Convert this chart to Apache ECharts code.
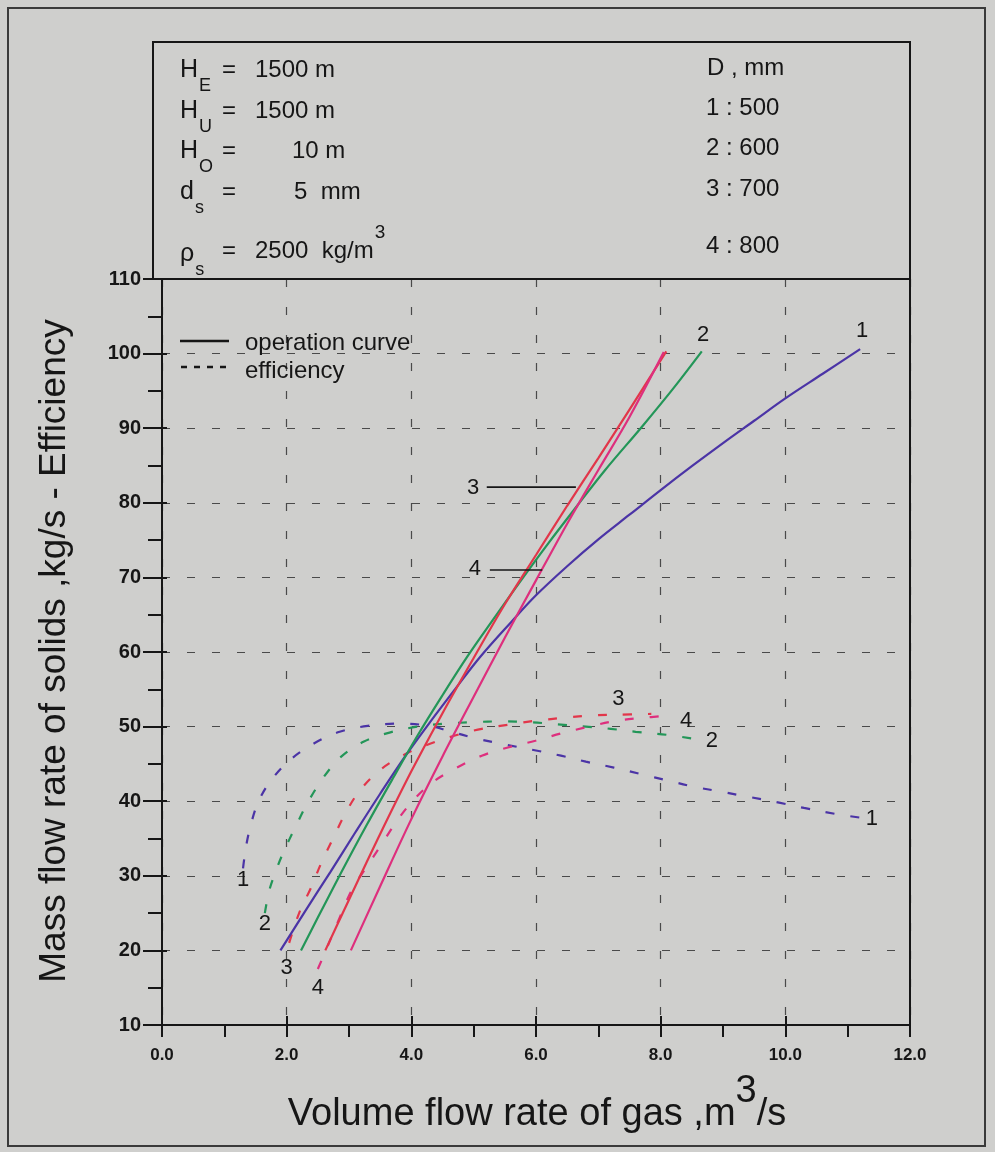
<!DOCTYPE html>
<html>
<head>
<meta charset="utf-8">
<script src="https://cdn.jsdelivr.net/npm/echarts/dist/echarts.min.js"></script>
<style>
html,body{margin:0;padding:0;background:#cfcfcd;}
#chart{width:995px;height:1152px;}
</style>
</head>
<body>
<div id="chart"></div>
<script>
// ---------------- data ----------------
const xTickLabels = [0, 2, 4, 6, 8, 10, 12];
const yTickLabels = [10, 20, 30, 40, 50, 60, 70, 80, 90, 100, 110];

const diameters = ['1 : 500', '2 : 600', '3 : 700', '4 : 800'];
const curveNames = ['1', '2', '3', '4'];

// operation curves (solid): [gas flow m3/s, solids kg/s]
const op1 = [[1.9,20],[2.3,25.3],[2.7,30.5],[3.1,35.8],[3.5,41.0],[3.9,46.0],[4.3,50.6],[4.7,55.0],[5.1,59.3],[5.6,64.0],[6.0,67.6],[6.5,71.5],[7.0,75.1],[7.5,78.4],[8.0,81.7],[8.5,84.9],[9.0,88.0],[9.5,91.0],[10.0,94.0],[10.6,97.3],[11.2,100.6]];
const op2 = [[2.23,20],[2.5,24.4],[2.86,30.2],[3.29,36.9],[3.7,43.0],[4.1,48.8],[4.5,54.2],[4.9,59.4],[5.3,64.2],[5.76,69.6],[6.2,74.6],[6.67,79.7],[7.1,84.3],[7.7,90.2],[8.2,95.3],[8.66,100.3]];
const op3 = [[2.62,20],[3.0,26.8],[3.5,35.6],[4.0,44.0],[4.5,51.8],[5.0,59.2],[5.5,66.4],[6.0,73.0],[6.5,79.6],[7.0,86.0],[7.5,92.5],[8.09,100.3]];
const op4 = [[3.03,20],[3.5,28.6],[4.0,37.6],[4.5,46.0],[5.0,54.0],[5.5,61.9],[6.0,69.6],[6.5,77.2],[7.0,84.4],[7.5,91.5],[8.05,100.2]];

// efficiency curves (dashed)
const eff1 = [[1.3,31],[1.35,34],[1.43,37],[1.55,40],[1.75,42.8],[2.05,45.5],[2.45,47.8],[2.85,49.3],[3.3,50.1],[3.8,50.4],[4.3,50.1],[4.6,49.4],[5.05,48.4],[5.5,47.6],[6.0,46.8],[6.4,46.1],[6.8,45.3],[7.25,44.5],[7.7,43.6],[8.1,42.8],[8.5,42.0],[8.95,41.3],[9.4,40.6],[9.9,39.8],[10.3,39.1],[10.8,38.3],[11.2,37.8]];
const eff2 = [[1.65,25],[1.72,28],[1.82,30.5],[1.95,33.2],[2.15,36.7],[2.35,40],[2.6,43.3],[2.88,46],[3.24,48],[3.65,49.2],[4.1,50],[4.55,50.4],[5.0,50.6],[5.45,50.7],[5.9,50.6],[6.35,50.3],[6.8,50.0],[7.2,49.7],[7.6,49.3],[8.1,48.9],[8.5,48.4]];
const eff3 = [[2.04,21],[2.2,25],[2.39,28.4],[2.56,31.8],[2.75,35.1],[2.95,38.5],[3.18,41.5],[3.5,44.2],[3.9,46.3],[4.3,47.7],[4.7,48.8],[5.13,49.7],[5.59,50.3],[6.01,50.8],[6.47,51.2],[6.9,51.5],[7.3,51.6],[7.85,51.7]];
const eff4 = [[2.5,17.5],[2.68,21],[2.85,24.4],[3.05,28.2],[3.26,30.9],[3.53,34.3],[3.78,37.5],[4.05,40.3],[4.35,42.6],[4.73,44.5],[5.13,46.1],[5.55,47.2],[5.99,48.1],[6.41,49.1],[6.85,50.0],[7.3,50.8],[7.75,51.2],[8.0,51.4]];

// curve number labels anchored in data space [x, y, text]
const curveLabels = [[11.23,103.1,'1'],[8.68,102.5,'2'],[4.99,82.0,'3'],[5.02,71.1,'4'],
  [1.30,29.5,'1'],[1.65,23.5,'2'],[2.0,17.7,'3'],[2.5,15.0,'4'],
  [7.32,53.7,'3'],[8.41,50.8,'4'],[8.82,48.1,'2'],[11.39,37.6,'1']];
const leader3 = [[5.21,82.1],[6.64,82.1]];
const leader4 = [[5.26,71.0],[6.10,71.0]];

// header parameters
const params = [['H','E','=','1500 m'],['H','U','=','1500 m'],['H','O','=','10 m'],['d','s','=','5  mm'],['\u03C1','s','=','2500  kg/m']];
const densityExp = '3';
const diamTitle = 'D , mm';
const legendTexts = ['operation curve', 'efficiency'];
const xTitle = ['Volume flow rate of gas ,m', '3', '/s'];
const yTitle = 'Mass flow rate of solids ,kg/s - Efficiency';

// ---------------- style / layout ----------------
const FONT = '"Liberation Sans", Arial, Helvetica, sans-serif';
const INK = '#161616';
const colors = ['#4B34A6', '#239658', '#E2364A', '#DE2F7D'];
const G = {left: 162, top: 279, width: 748, height: 746};

const mctx = document.createElement('canvas').getContext('2d');
function tw(str, size, weight) {
  mctx.font = (weight || 'normal') + ' ' + size + 'px ' + FONT;
  return mctx.measureText(str).width;
}
function txt(x, y, s, size, opt) {
  opt = opt || {};
  return {type: 'text', x: x, y: y, z: 50, rotation: opt.rotation || 0,
    style: {text: s, fill: INK, fontSize: size, fontFamily: FONT, fontWeight: opt.weight || 'normal',
      textAlign: opt.align || 'left', textVerticalAlign: 'middle', align: opt.align || 'left', verticalAlign: 'middle'}};
}

const graphics = [];
// outer frame
graphics.push({type: 'rect', z: 40, shape: {x: 8, y: 8, width: 977, height: 1138}, style: {fill: 'none', stroke: '#3a3a3a', lineWidth: 2}});
// header box
graphics.push({type: 'rect', z: 40, shape: {x: 153, y: 42, width: G.left + G.width - 153, height: G.top - 42}, style: {fill: 'none', stroke: INK, lineWidth: 2}});
// right border of plot
graphics.push({type: 'line', z: 40, shape: {x1: G.left + G.width, y1: G.top, x2: G.left + G.width, y2: G.top + G.height}, style: {stroke: INK, lineWidth: 2}});

// header left column
const rowY = [70, 111, 151, 192, 254];
const valX = [255, 255, 292, 294, 255];
params.forEach((p, i) => {
  const y = rowY[i];
  graphics.push(txt(180, y, p[0], 25));
  graphics.push(txt(181 + tw(p[0], 25), y + 16, p[1], 18));
  graphics.push(txt(222, y - (i === 4 ? 3 : 0), p[2], 24));
  graphics.push(txt(valX[i], y - (i === 4 ? 3 : 0), p[3], 24));
  if (i === 4) graphics.push(txt(valX[i] + tw(p[3], 24) + 1, y - 21, densityExp, 19));
});
// header right column
graphics.push(txt(707, 68, diamTitle, 24));
const diamY = [108, 148, 189, 246];
diameters.forEach((d, i) => graphics.push(txt(706, diamY[i], d, 24)));

// legend
graphics.push({type: 'line', z: 50, shape: {x1: 180, y1: 341, x2: 229, y2: 341}, style: {stroke: INK, lineWidth: 2.5}});
graphics.push({type: 'line', z: 50, shape: {x1: 181, y1: 367, x2: 229, y2: 367}, style: {stroke: INK, lineWidth: 2.5, lineDash: [6, 7]}});
graphics.push(txt(245, 343, legendTexts[0], 24));
graphics.push(txt(245, 371, legendTexts[1], 24));

// axis titles
const xs = 38;
const w0 = tw(xTitle[0], xs), w1 = tw(xTitle[1], xs), w2 = tw(xTitle[2], xs);
const xStart = 537 - (w0 + w1 + w2) / 2;
graphics.push(txt(xStart, 1115, xTitle[0], xs));
graphics.push(txt(xStart + w0, 1092, xTitle[1], xs));
graphics.push(txt(xStart + w0 + w1, 1115, xTitle[2], xs));
graphics.push(txt(55, 651, yTitle, 37, {rotation: Math.PI / 2, align: 'center'}));

// ---------------- series ----------------
const opData = [op1, op2, op3, op4];
const effData = [eff1, eff2, eff3, eff4];
const series = [];
opData.forEach((d, i) => series.push({
  name: 'op ' + curveNames[i], type: 'line', data: d, smooth: 0.35, showSymbol: false, silent: true,
  lineStyle: {color: colors[i], width: 2.2}, z: 5
}));
effData.forEach((d, i) => series.push({
  name: 'eff ' + curveNames[i], type: 'line', data: d, smooth: 0.35, showSymbol: false, silent: true,
  lineStyle: {color: colors[i], width: 2.2, type: [9, 16]}, z: 4
}));
[leader3, leader4].forEach(d => series.push({
  type: 'line', data: d, showSymbol: false, silent: true, lineStyle: {color: INK, width: 1.6}, z: 6
}));

const tickLine = {color: INK, width: 2};
const option = {
  backgroundColor: '#cfcfcd',
  animation: false,
  grid: {left: G.left, top: G.top, width: G.width, height: G.height, containLabel: false},
  xAxis: [
    {type: 'value', min: 0, max: 12, interval: 1, position: 'bottom',
      axisLine: {show: true, lineStyle: {color: INK, width: 2}},
      axisTick: {show: true, length: 12, lineStyle: tickLine},
      splitLine: {show: false},
      axisLabel: {formatter: v => xTickLabels.includes(v) ? v.toFixed(1) : '', fontWeight: 'bold', fontSize: 17, color: INK, fontFamily: FONT, margin: 22, showMinLabel: true, showMaxLabel: true}},
    {type: 'value', min: 0, max: 12, interval: 2, position: 'bottom',
      axisLine: {show: false}, axisLabel: {show: false},
      axisTick: {show: true, inside: true, length: 9, lineStyle: tickLine},
      splitLine: {show: true, lineStyle: {color: '#4a4a4a', width: 1.2, type: [8, 20]}}}
  ],
  yAxis: [
    {type: 'value', min: 10, max: 110, interval: 5, position: 'left',
      axisLine: {show: true, lineStyle: {color: INK, width: 2}},
      axisTick: {show: true, length: 14, lineStyle: tickLine},
      splitLine: {show: false},
      axisLabel: {formatter: v => yTickLabels.includes(v) ? String(v) : '', fontWeight: 'bold', fontSize: 20, color: INK, fontFamily: FONT, margin: 21}},
    {type: 'value', min: 10, max: 110, interval: 10, position: 'left',
      axisLine: {show: false}, axisLabel: {show: false},
      axisTick: {show: true, length: 19, lineStyle: tickLine},
      splitLine: {show: true, lineStyle: {color: '#4a4a4a', width: 1.2, type: [8, 17]}}},
    {type: 'value', min: 10, max: 110, interval: 10, position: 'left',
      axisLine: {show: false}, axisLabel: {show: false},
      axisTick: {show: true, inside: true, length: 5, lineStyle: tickLine},
      splitLine: {show: false}}
  ],
  series: series
};

const chart = echarts.init(document.getElementById('chart'), null, {renderer: 'canvas'});
chart.setOption(option);

// curve number labels placed through the chart's own scales
curveLabels.forEach(l => {
  const p = chart.convertToPixel({xAxisIndex: 0, yAxisIndex: 0}, [l[0], l[1]]);
  graphics.push(txt(p[0], p[1], l[2], 22, {align: 'center'}));
});
chart.setOption({graphic: graphics});
</script>
</body>
</html>
